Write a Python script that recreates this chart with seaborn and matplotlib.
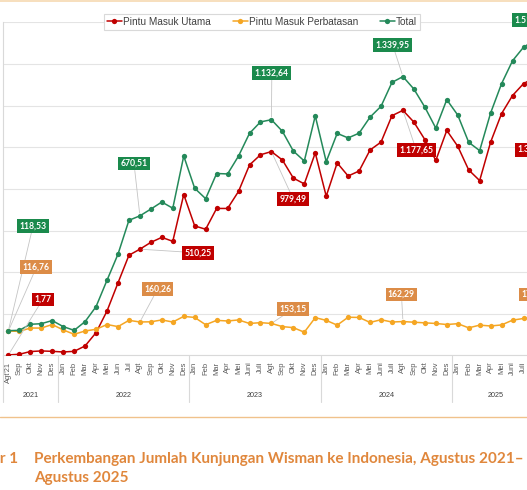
import numpy as np
import pandas as pd
import matplotlib
matplotlib.use('Agg')
import matplotlib.pyplot as plt
import matplotlib.transforms as mtransforms
from matplotlib.lines import Line2D
import seaborn as sns

# data (ribu kunjungan), Agt 2021 - Agt 2025
months = ["Agt'21", "Sep", "Okt", "Nov", "Des",
          "Jan", "Feb", "Mar", "Apr", "Mei", "Jun", "Jul", "Agt", "Sep", "Okt", "Nov", "Des",
          "Jan", "Feb", "Mar", "Apr", "Mei", "Juni", "Juli", "Agt", "Sep", "Okt", "Nov", "Des",
          "Jan", "Feb", "Mar", "Apr", "Mei", "Juni", "Juli", "Agt", "Sep", "Okt", "Nov", "Des",
          "Jan", "Feb", "Mar", "Apr", "Mei", "Juni", "Juli", "Agt"]
years = ["2021", "2022", "2023", "2024", "2025"]
year_bounds = [0, 5, 17, 29, 41, 49]

utama = [1.77, 5, 18, 21, 19, 16, 19, 45, 109, 213, 348, 481, 510.25, 543, 567, 548, 773,
         622, 606, 706, 706, 788, 915, 964, 979.49, 939, 852, 824, 973,
         765, 925, 862, 886, 987, 1025, 1152, 1177.65, 1121, 1037, 937, 1081,
         1005, 891, 840, 1025, 1162, 1249, 1306, 1335.08]
perbatasan = [116.76, 115, 131, 131, 148, 122, 101, 117, 125, 148, 138, 168, 160.26, 161, 170, 160, 187,
              182, 147, 168, 165, 170, 153, 157, 153.15, 138, 133, 111, 181,
              168, 145, 183, 182, 158, 171, 160, 162.29, 159, 156, 153, 148,
              152, 132, 145, 141, 146, 169, 177, 179.23]
total = [118.53, 120, 149, 152, 167, 138, 120, 162, 234, 361, 486, 649, 670.51, 703, 737, 707, 958,
         803, 753, 874, 872, 958, 1067, 1122, 1132.64, 1077, 982, 934, 1151,
         931, 1067, 1045, 1068, 1145, 1197, 1312, 1339.95, 1280, 1193, 1092, 1229,
         1155, 1024, 984, 1165, 1306, 1416, 1481, 1514.31]

RED = '#C00000'
ORANGE = '#F5A623'
ORANGE_BOX = '#DC8C47'
GREEN = '#24895A'
GREEN_BOX = '#1A8A4C'
TITLE = '#E0873C'

sns.set_theme(style='white')
plt.rcParams['font.family'] = ['Liberation Sans', 'DejaVu Sans']

W, H = 527, 490
fig = plt.figure(figsize=(W / 100, H / 100), dpi=100, facecolor='white')
cat_w = 10.96
ax = fig.add_axes([2.9 / W, 1 - 355.3 / H, 49 * cat_w / W, (355.3 - 22.5) / H])
ax.set_facecolor('white')

idx = np.arange(len(months))
df = pd.DataFrame({'idx': idx, 'Pintu Masuk Utama': utama,
                   'Pintu Masuk Perbatasan': perbatasan, 'Total': total})

series = [('Pintu Masuk Utama', RED), ('Pintu Masuk Perbatasan', ORANGE), ('Total', GREEN)]
for name, col in series:
    sns.lineplot(data=df, x='idx', y=name, ax=ax, color=col, lw=1.1, marker='o',
                 markersize=3.8, markeredgewidth=0, label=name, zorder=3)

ax.set_xlim(-0.5, 48.5)
ax.set_ylim(0, 1600)
ax.set_yticks(range(0, 1601, 200))
ax.yaxis.grid(True, color='#e4e4e4', lw=0.8)
ax.tick_params(axis='y', labelleft=False, length=0)
ax.set_xticks(idx)
ax.set_xticklabels(months, rotation=90, fontsize=5.4, color='#595959')
ax.tick_params(axis='x', length=0, pad=4.5)
ax.set_xlabel('')
ax.set_ylabel('')
for s in ['top', 'right']:
    ax.spines[s].set_visible(False)
for s in ['left', 'bottom']:
    ax.spines[s].set_color('#d9d9d9')
    ax.spines[s].set_linewidth(0.8)

# year groups under the month labels
blend = mtransforms.blended_transform_factory(ax.transData, fig.transFigure)
for b in year_bounds:
    ax.plot([b - 0.5, b - 0.5], [1 - 355.3 / H, 1 - 402 / H], transform=blend,
            color='#d9d9d9', lw=0.8, clip_on=False)
for k, yr in enumerate(years):
    mid = (year_bounds[k] + year_bounds[k + 1]) / 2 - 0.5
    ax.text(mid, 1 - 395.7 / H, yr, transform=blend, ha='center', va='center',
            fontsize=5.2, color='#404040')


def fmt(v):
    s = f"{v:,.2f}"
    return s.replace(',', 'X').replace('.', ',').replace('X', '.')


# data labels: (values, index, dx, dy, box colour, leader)
labels = [
    (total, 0, 24.6, 104.6, GREEN_BOX, True),
    (perbatasan, 0, 28, 63.7, ORANGE_BOX, True),
    (utama, 0, 34.4, 55.5, RED, True),
    (total, 12, -5.9, 52.3, GREEN_BOX, True),
    (utama, 12, 58.4, -3.7, RED, True),
    (perbatasan, 12, 17.6, 32.7, ORANGE_BOX, True),
    (total, 24, 0.4, 46.6, GREEN_BOX, True),
    (utama, 24, 21.8, -47.5, RED, True),
    (perbatasan, 24, 21.8, 14.6, ORANGE_BOX, True),
    (total, 36, -10.2, 31.4, GREEN_BOX, True),
    (utama, 36, 13.2, -39.5, RED, True),
    (perbatasan, 36, -1.5, 27, ORANGE_BOX, True),
    (total, 48, -2.5, 20.4, GREEN_BOX, False),
    (utama, 48, 0.5, -72, RED, False),
    (perbatasan, 48, 0.5, 23.5, ORANGE_BOX, False),
]
for vals, i, dx, dy, box, leader in labels:
    arrow = dict(arrowstyle='-', color='#c4c4c4', lw=0.6, shrinkA=0, shrinkB=2) if leader else None
    ax.annotate(fmt(vals[i]), xy=(i, vals[i]), xytext=(dx, dy), textcoords='offset pixels',
                ha='center', va='center', fontsize=6.2, fontweight='bold', color='white',
                family=['Lato', 'DejaVu Sans'],
                bbox=dict(boxstyle='square,pad=0.28', fc=box, ec='none'),
                arrowprops=arrow, annotation_clip=False, zorder=5)

leg = ax.legend(loc='center', bbox_to_anchor=(262 / W, 1 - 22 / H), bbox_transform=fig.transFigure,
                ncol=3, frameon=True, fancybox=False, edgecolor='#d9d9d9', framealpha=1,
                prop={'family': ['Liberation Sans Narrow', 'Liberation Sans'], 'size': 7.2},
                labelcolor='#404040', handlelength=1.5, handletextpad=0.1, columnspacing=2.2,
                borderpad=0.3)
leg.get_frame().set_linewidth(0.8)

# frame lines of the figure box
fig.add_artist(Line2D([0, 1], [1 - 1.5 / H] * 2, transform=fig.transFigure, color='#F6D9B2', lw=1.2))
fig.add_artist(Line2D([0, 1], [1 - 416.7 / H] * 2, transform=fig.transFigure, color='#F0C28C', lw=1.0))

# caption
cap = dict(fontsize=11, fontweight='bold', color=TITLE, family=['Lato', 'DejaVu Sans'], va='baseline')
fig.text(18 / W, 1 - 463 / H, 'Gambar 1', ha='right', **cap)
fig.text(34 / W, 1 - 463 / H, 'Perkembangan Jumlah Kunjungan Wisman ke Indonesia, Agustus 2021–', ha='left', **cap)
fig.text(34 / W, 1 - 481.7 / H, 'Agustus 2025', ha='left', **cap)

fig.savefig('out.png', dpi=100, facecolor='white')
